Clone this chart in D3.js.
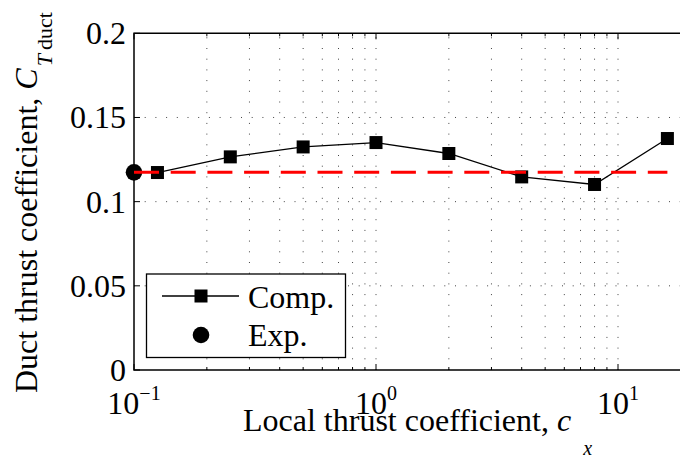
<!DOCTYPE html>
<html>
<head>
<meta charset="utf-8">
<script src="https://cdn.jsdelivr.net/npm/d3@7"></script>
<style>
  body { margin: 0; background: #fff; }
  svg { display: block; font-family: "Liberation Serif", "Times New Roman", serif; }
</style>
</head>
<body>
<div id="chart"></div>
<script>
// computed duct thrust coefficient vs local thrust coefficient
const cx     = [0.125, 0.25, 0.5, 1, 2, 4, 8, 16];
const ctComp = [0.1173, 0.1266, 0.1325, 0.1351, 0.1286, 0.1147, 0.1102, 0.1375];
const expX   = [0.1];
const expY   = [0.1174];
const yTicks = [0, 0.05, 0.1, 0.15, 0.2];
const yTickLabels = ["0", "0.05", "0.1", "0.15", "0.2"];
const xMajor = [0.1, 1, 10];
const xMajorExp = ["\u22121", "0", "1"];

const W = 680, H = 462;
const m = { left: 134, top: 33.3, bottom: 370 };
const fs = 32;

const svg = d3.select("#chart").append("svg").attr("width", W).attr("height", H);

const x = d3.scaleLog().domain([0.1, 20]).range([m.left, m.left + 242 * Math.log10(200)]);
const y = d3.scaleLinear().domain([0, 0.2]).range([m.bottom, m.top]);
const [x0, x1] = x.range();

// minor log ticks
const xAll = [];
for (let dec = 0.1; dec <= 10; dec *= 10)
  for (let k = 1; k <= 9; k++) {
    const v = +(dec * k).toPrecision(3);
    if (v >= 0.1 && v <= 20) xAll.push(v);
  }

/* ---------- grid ---------- */
const grid = svg.append("g").attr("stroke", "#444").attr("stroke-width", 1)
  .attr("stroke-dasharray", "1,9.7");
grid.selectAll("line.v").data(xAll.filter(v => v > 0.1)).enter().append("line")
  .attr("x1", d => x(d)).attr("x2", d => x(d))
  .attr("y1", m.bottom).attr("y2", m.top);
grid.selectAll("line.h").data(yTicks.filter(v => v > 0 && v < 0.2)).enter().append("line")
  .attr("x1", x0).attr("x2", x1)
  .attr("y1", d => y(d)).attr("y2", d => y(d));

/* ---------- axes box & ticks ---------- */
const ax = svg.append("g").attr("stroke", "#000").attr("fill", "none");
ax.append("path").attr("stroke-width", 1.5)
  .attr("d", `M${x1},${m.top}H${x0}V${m.bottom}H${x1}`);
ax.selectAll("line.xt").data(xAll).enter().append("line")
  .attr("stroke-width", 1)
  .attr("x1", d => x(d)).attr("x2", d => x(d))
  .attr("y1", m.bottom).attr("y2", d => m.bottom - (xMajor.includes(d) ? 6 : 3));
ax.selectAll("line.xtt").data(xAll).enter().append("line")
  .attr("stroke-width", 1)
  .attr("x1", d => x(d)).attr("x2", d => x(d))
  .attr("y1", m.top).attr("y2", d => m.top + (xMajor.includes(d) ? 6 : 3));
ax.selectAll("line.yt").data(yTicks).enter().append("line")
  .attr("stroke-width", 1)
  .attr("x1", x0).attr("x2", x0 + 6)
  .attr("y1", d => y(d)).attr("y2", d => y(d));

/* ---------- tick labels ---------- */
svg.append("g").selectAll("text").data(yTicks).enter().append("text")
  .attr("x", x0 - 8).attr("y", d => y(d) + 11)
  .attr("text-anchor", "end").attr("font-size", fs)
  .text((d, i) => yTickLabels[i]);

const xl = svg.append("g").selectAll("text").data(xMajor).enter().append("text")
  .attr("x", d => x(d)).attr("y", 414)
  .attr("text-anchor", "middle").attr("font-size", fs);
xl.append("tspan").text("10");
xl.append("tspan").attr("font-size", 20).attr("dy", -14).text((d, i) => xMajorExp[i]);

/* ---------- axis titles ---------- */
const xt = svg.append("text").attr("x", 243).attr("y", 431).attr("font-size", fs);
xt.append("tspan").text("Local thrust coefficient, ");
xt.append("tspan").attr("font-style", "italic").text("c");
xt.append("tspan").attr("font-style", "italic").attr("font-size", 20).attr("dy", 24).attr("dx", 12).text("x");

const yt = svg.append("text").attr("transform", "translate(37,393) rotate(-90)").attr("font-size", fs);
yt.append("tspan").text("Duct thrust coefficient, ");
yt.append("tspan").attr("font-style", "italic").text("C");
yt.append("tspan").attr("font-style", "italic").attr("font-size", 22).attr("dy", 15).attr("dx", 2).text("T");
yt.append("tspan").attr("font-size", 22).attr("dx", 4).text("duct");

/* ---------- data ---------- */
const line = d3.line().x(d => x(d[0])).y(d => y(d[1]));
const comp = cx.map((v, i) => [v, ctComp[i]]);
svg.append("path").datum(comp).attr("d", line)
  .attr("fill", "none").attr("stroke", "#000").attr("stroke-width", 1.3);
const sq = 13;
svg.append("g").selectAll("rect").data(comp).enter().append("rect")
  .attr("x", d => x(d[0]) - sq / 2).attr("y", d => y(d[1]) - sq / 2)
  .attr("width", sq).attr("height", sq).attr("fill", "#000");
svg.append("g").selectAll("circle").data(expX).enter().append("circle")
  .attr("cx", d => x(d)).attr("cy", (d, i) => y(expY[i])).attr("r", 8.3).attr("fill", "#000");

// experimental reference level
svg.append("line")
  .attr("x1", x(expX[0])).attr("x2", x(cx[cx.length - 1]))
  .attr("y1", y(expY[0])).attr("y2", y(expY[0]))
  .attr("stroke", "#ff0000").attr("stroke-width", 3)
  .attr("stroke-dasharray", "25,11.7");

/* ---------- legend ---------- */
const lg = svg.append("g");
lg.append("rect").attr("x", 146.5).attr("y", 274).attr("width", 199).attr("height", 83.5)
  .attr("fill", "#fff").attr("stroke", "#000").attr("stroke-width", 1.3);
lg.append("line").attr("x1", 162).attr("x2", 239).attr("y1", 296).attr("y2", 296)
  .attr("stroke", "#000").attr("stroke-width", 1.3);
lg.append("rect").attr("x", 201 - sq / 2).attr("y", 296 - sq / 2).attr("width", sq).attr("height", sq);
lg.append("circle").attr("cx", 201).attr("cy", 335).attr("r", 8.3);
lg.append("text").attr("x", 248).attr("y", 308).attr("font-size", fs).text("Comp.");
lg.append("text").attr("x", 248).attr("y", 346).attr("font-size", fs).text("Exp.");
</script>
</body>
</html>
